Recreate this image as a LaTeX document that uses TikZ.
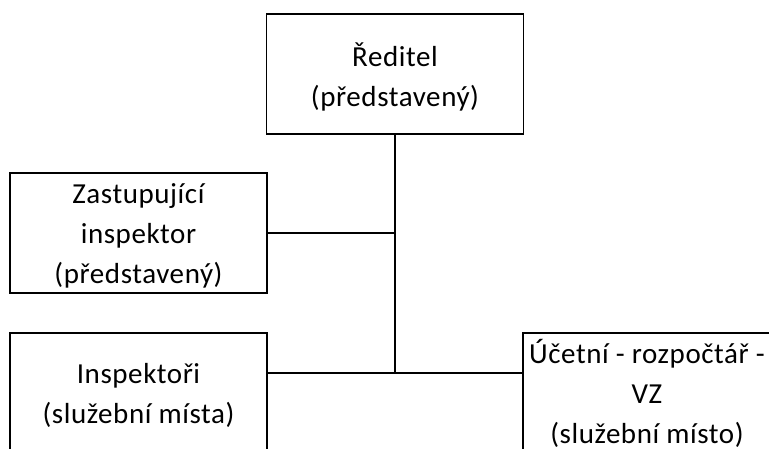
\documentclass[tikz,border=0pt]{standalone}
\usepackage{fontspec}
\setmainfont{Carlito}[LetterSpace=2]
\usepackage{tikz}
\tikzstyle{unit}=[rectangle, draw, line width=1.6pt, minimum width=257pt, minimum height=120pt, inner sep=0pt]
\tikzstyle{tag}=[align=center, inner sep=0pt, yshift=-2.5pt, font=\fontsize{29}{40}\selectfont]
\tikzstyle{link}=[line width=1.6pt]

\begin{document}
\begin{tikzpicture}[x=1pt, y=-1pt]
                    \useasboundingbox (0, 0) rectangle (769, 448);
                    \clip (0, 0) rectangle (769, 448);
                    \node[unit, label={[tag]center:Ředitel\\(představený)}] (reditel) at (395, 74) {};
                    \node[unit, label={[tag]center:Zastupující\\inspektor\\(představený)}] (zastupce) at (138.5, 233) {};
                    \node[unit, label={[tag]center:Inspektoři\\(služební místa)}] (inspektori) at (138.5, 393) {};
                    \node[unit, minimum width=258pt, label={[tag, xshift=-5pt, yshift=2.5pt]center:Účetní - rozpočtář -\\VZ\\(služební místo)}] (ucetni) at (652, 393) {};
                    \coordinate (spoj) at (395, 373);
                    \draw[link]
                        (reditel.south) -- (spoj)
                        (zastupce.east) -- (zastupce.east -| reditel.south)
                        (inspektori.east |- spoj) -- (ucetni.west |- spoj)
                    ;
                \end{tikzpicture}
\end{document}
